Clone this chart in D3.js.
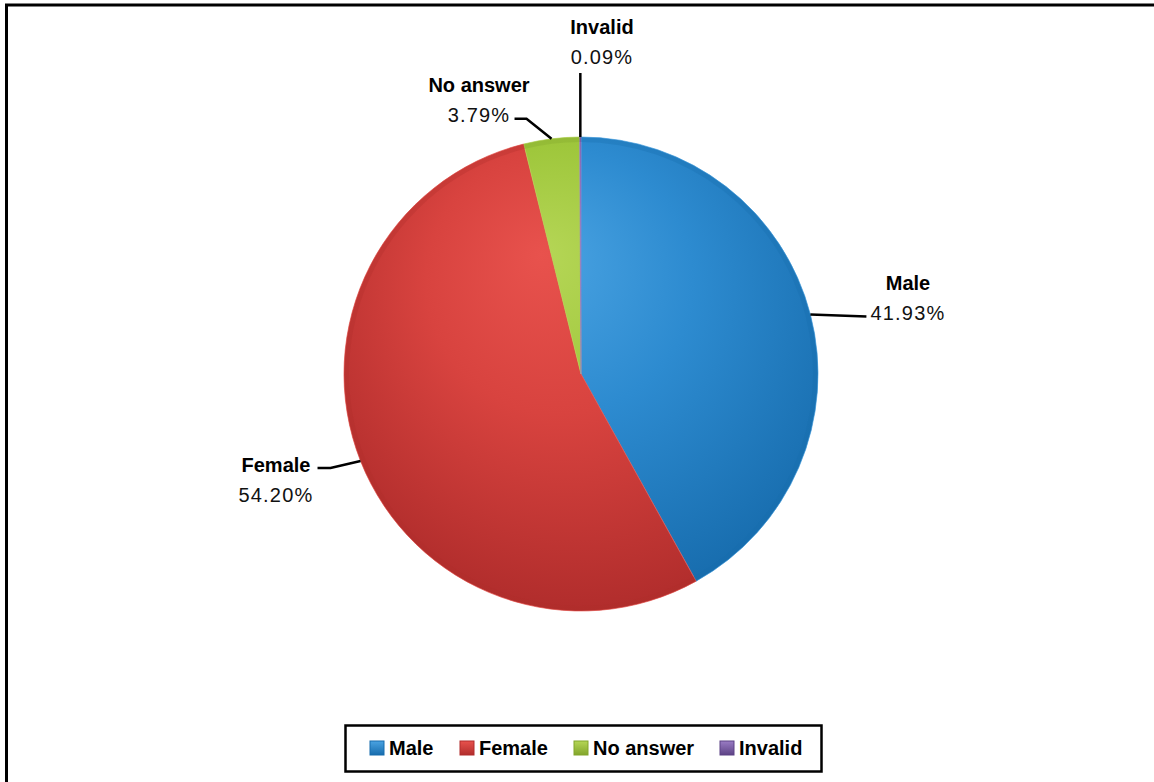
<!DOCTYPE html>
<html><head><meta charset="utf-8">
<script src="https://cdn.jsdelivr.net/npm/d3@7"></script>
<style>html,body{margin:0;padding:0;background:#fff;overflow:hidden}</style>
</head><body>
<script>
const categories = ["Male", "Female", "No answer", "Invalid"];
const values = [41.93, 54.20, 3.79, 0.09];
const valueLabels = ["41.93%", "54.20%", "3.79%", "0.09%"];
const colorsLight = ["#4aa3e2", "#e8524d", "#b5d656", "#9a7cc4"];
const colorsMid = ["#2d8bd0", "#d8433f", "#9fc73c", "#7c5ea8"];
const colorsDark = ["#176cad", "#b12d2c", "#82a52b", "#5d4385"];

const W = 1154, H = 782;
const svg = d3.select("body").append("svg").attr("width", W).attr("height", H)
  .style("font-family", "'Liberation Sans', Arial, sans-serif");

// frame
svg.append("rect").attr("x", 6.5).attr("y", 5).attr("width", W + 20).attr("height", H + 20)
  .attr("fill", "none").attr("stroke", "#000").attr("stroke-width", 3);

const cx = 581, cy = 374, R = 237;
const defs = svg.append("defs");
categories.forEach((c, i) => {
  const g = defs.append("radialGradient").attr("id", "g" + i)
    .attr("gradientUnits", "userSpaceOnUse").attr("cx", 0).attr("cy", -60).attr("r", R * 1.25)
    .attr("fx", -40).attr("fy", -120);
  g.append("stop").attr("offset", "0%").attr("stop-color", colorsLight[i]);
  g.append("stop").attr("offset", "45%").attr("stop-color", colorsMid[i]);
  g.append("stop").attr("offset", "100%").attr("stop-color", colorsDark[i]);
  const lg = defs.append("linearGradient").attr("id", "lg" + i).attr("x1", 0).attr("y1", 0).attr("x2", 0).attr("y2", 1);
  lg.append("stop").attr("offset", "0%").attr("stop-color", colorsLight[i]);
  lg.append("stop").attr("offset", "100%").attr("stop-color", colorsDark[i]);
});

const pie = d3.pie().sort(null).value(d => d)(values);
const arc = d3.arc().innerRadius(0).outerRadius(R);
const rim = d3.arc().innerRadius(R - 5).outerRadius(R);
const pg = svg.append("g").attr("transform", `translate(${cx},${cy})`);
pg.selectAll("path.slice").data(pie).join("path").attr("class", "slice")
  .attr("d", arc).attr("fill", (d, i) => `url(#g${i})`)
  .attr("stroke", (d, i) => colorsLight[i]).attr("stroke-width", 1).attr("stroke-opacity", 0.7);
pg.selectAll("path.rim").data(pie).join("path").attr("class", "rim")
  .attr("d", rim).attr("fill", (d, i) => colorsDark[i]).attr("opacity", 0.3);

// labels with leader lines
const labelPos = [
  { x: 908, y: 290, line: (p) => [p, [p[0] + 56, p[1] + 2]] },
  { x: 276, y: 472, line: (p) => [p, [p[0] - 30, p[1] + 7], [p[0] - 43, p[1] + 7]] },
  { x: 479, y: 92, line: (p) => [p, [p[0] - 25, p[1] - 20], [p[0] - 37, p[1] - 20]] },
  { x: 602, y: 34, line: (p) => [p, [p[0], 73]] }
];
pie.forEach((d, i) => {
  const a = (d.startAngle + d.endAngle) / 2;
  const p = [cx + R * Math.sin(a), cy - R * Math.cos(a)];
  svg.append("path").attr("d", d3.line()(labelPos[i].line(p)))
    .attr("fill", "none").attr("stroke", "#000").attr("stroke-width", 2.5);
  const t = svg.append("g");
  t.append("text").attr("x", labelPos[i].x).attr("y", labelPos[i].y).attr("text-anchor", "middle")
    .attr("font-size", 20).attr("font-weight", "bold").attr("fill", "#000").text(categories[i]);
  t.append("text").attr("x", labelPos[i].x).attr("y", labelPos[i].y + 30).attr("text-anchor", "middle")
    .attr("font-size", 20).attr("letter-spacing", 1.2).attr("fill", "#111").text(valueLabels[i]);
});

// legend
svg.append("rect").attr("x", 345.5).attr("y", 725.5).attr("width", 476).attr("height", 46)
  .attr("fill", "#fff").attr("stroke", "#000").attr("stroke-width", 2.5);
const legX = [370, 460, 574, 720];
const lg = svg.selectAll("g.leg").data(categories).join("g").attr("class", "leg")
  .attr("transform", (d, i) => `translate(${legX[i]},748)`);
lg.append("rect").attr("x", 0).attr("y", -7).attr("width", 14).attr("height", 14)
  .attr("fill", (d, i) => `url(#lg${i})`).attr("stroke", (d, i) => colorsDark[i]).attr("stroke-width", 1);
lg.append("text").attr("x", 19).attr("y", 7).attr("font-size", 20).attr("font-weight", "bold")
  .attr("fill", "#000").text(d => d);
</script>
</body></html>
